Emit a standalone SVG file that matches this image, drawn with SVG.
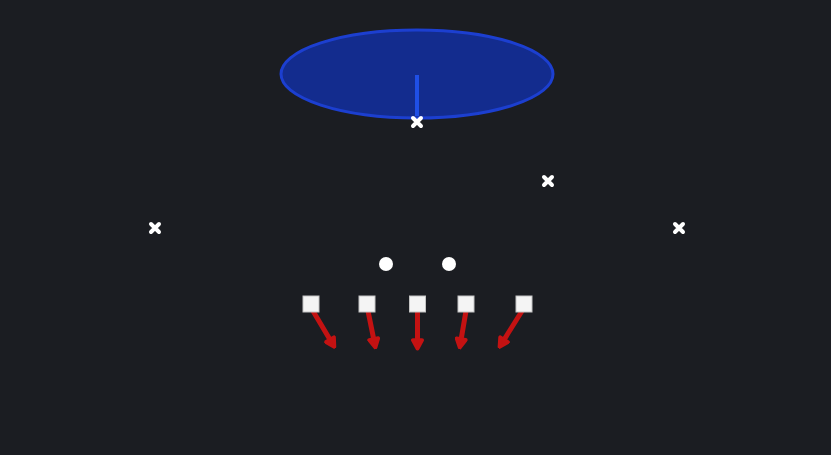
<svg xmlns="http://www.w3.org/2000/svg" width="831" height="455" viewBox="0 0 831 455">
<defs>
<style>
.x{stroke:#ffffff;stroke-width:4;stroke-linecap:round;fill:none}
.sq{fill:#f4f4f4;stroke:#c4c4c4;stroke-width:1}
.dot{fill:#ffffff}
.arr{stroke:#c41212;stroke-width:5;fill:none;stroke-linecap:round;marker-end:url(#ah)}
</style>
<marker id="ah" viewBox="0 0 10 10" refX="5" refY="5" markerWidth="2.6" markerHeight="2.6" orient="auto" markerUnits="strokeWidth">
<path d="M2,1.5 L8.5,5 L2,8.5 Z" fill="#c41212" stroke="#c41212" stroke-width="3" stroke-linejoin="round"/>
</marker>
</defs>
<rect width="831" height="455" fill="#1b1d22"/>
<g id="zone">
<ellipse cx="417" cy="74" rx="136" ry="44" fill="#132c8e" stroke="#1c3fd0" stroke-width="3"/>
<line x1="417" y1="75" x2="417" y2="116" stroke="#1f4fe6" stroke-width="4"/>
</g>
<g id="defenders">
<g id="d1"><path class="x" d="M413,118 l8,8 M421,118 l-8,8"/></g>
<g id="d2"><path class="x" d="M544,177 l8,8 M552,177 l-8,8"/></g>
<g id="d3"><path class="x" d="M151,224 l8,8 M159,224 l-8,8"/></g>
<g id="d4"><path class="x" d="M675,224 l8,8 M683,224 l-8,8"/></g>
</g>
<g id="backs">
<circle id="b1" class="dot" cx="386" cy="264" r="7"/>
<circle id="b2" class="dot" cx="449" cy="264" r="7"/>
</g>
<g id="connectors">
<line class="arr" x1="313" y1="311" x2="332" y2="343"/>
<line class="arr" x1="368" y1="311" x2="374.5" y2="343"/>
<line class="arr" x1="417.5" y1="311" x2="417.5" y2="344"/>
<line class="arr" x1="466" y1="311" x2="460.5" y2="343"/>
<line class="arr" x1="522" y1="311" x2="502" y2="343"/>
</g>
<g id="linemen">
<rect id="l1" class="sq" x="303" y="296" width="16" height="16"/>
<rect id="l2" class="sq" x="359" y="296" width="16" height="16"/>
<rect id="l3" class="sq" x="409.5" y="296" width="16" height="16"/>
<rect id="l4" class="sq" x="458" y="296" width="16" height="16"/>
<rect id="l5" class="sq" x="516" y="296" width="16" height="16"/>
</g>
</svg>
